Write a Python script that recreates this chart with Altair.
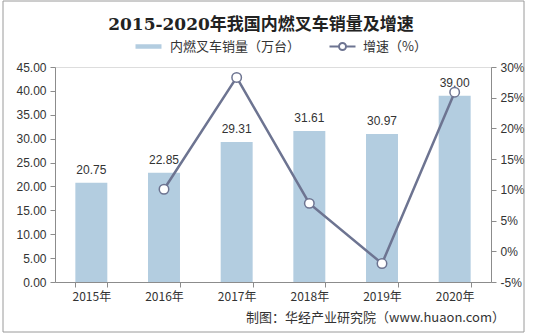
import altair as alt
import pandas as pd

years = ["2015年", "2016年", "2017年", "2018年", "2019年", "2020年"]
sales = [20.75, 22.85, 29.31, 31.61, 30.97, 39.00]
growth = [None, 10.1, 28.3, 7.8, -2.0, 25.9]
left_ticks = [0, 5, 10, 15, 20, 25, 30, 35, 40, 45]
right_ticks = [-5, 0, 5, 10, 15, 20, 25, 30]
title_text = "2015-2020年我国内燃叉车销量及增速"
bar_name = "内燃叉车销量（万台）"
line_name = "增速（%）"
footer = "制图：华经产业研究院（www.huaon.com）"

df = pd.DataFrame({"year": years, "sales": sales, "growth": growth})
df["s"] = bar_name
df["g"] = line_name

BAR = "#b3cde0"
LINE = "#6d7491"
AXC = "#8c8c8c"
NUMFONT = "Liberation Sans"
CJK = "Noto Sans CJK SC"

left_axis = alt.Axis(
    orient="left", title=None, values=left_ticks, format=".2f", grid=False,
    domainColor=AXC, tickColor=AXC, labelColor="#333333", labelFont=NUMFONT,
    labelFontSize=12, tickSize=5, labelPadding=4, labelOverlap=False, labelFlush=False,
)
right_axis = alt.Axis(
    orient="right", title=None, values=right_ticks, labelExpr="datum.value + '%'",
    grid=False, domainColor=AXC, tickColor=AXC, labelColor="#333333",
    labelFont=NUMFONT, labelFontSize=12, tickSize=5, labelPadding=4,
    labelOverlap=False, labelFlush=False,
)
x_axis = alt.Axis(
    title=None, labelAngle=0, tickBand="extent", domainColor=AXC, tickColor=AXC,
    labelColor="#333333", labelFont=CJK, labelFontSize=12, labelPadding=4, tickSize=5,
    labelOverlap=False,
)

base = alt.Chart(df)
xenc = alt.X("year:N", sort=years, scale=alt.Scale(paddingInner=0.56, paddingOuter=0.28), axis=x_axis)
yleft = alt.Y("sales:Q", scale=alt.Scale(domain=[0, 45], nice=False), axis=left_axis)

bars = base.mark_bar().encode(
    x=xenc,
    y=yleft,
    color=alt.Color(
        "s:N",
        scale=alt.Scale(range=[BAR]),
        legend=alt.Legend(
            title=None, orient="none", legendX=87, legendY=-27,
            symbolType="M-2.6,-0.45H2.6V0.45H-2.6Z", symbolSize=100, symbolStrokeWidth=0,
            labelFont=CJK, labelFontSize=13, labelColor="#333333", labelOffset=15,
        ),
    ),
)

labels = base.mark_text(
    dy=-6, baseline="bottom", font=NUMFONT, fontSize=12, color="#333333"
).encode(
    x=xenc,
    y=yleft,
    text=alt.Text("sales:Q", format=".2f"),
)

left = alt.layer(bars, labels)

gdf = base.transform_filter("isValid(datum.growth)")
yright = alt.Y("growth:Q", scale=alt.Scale(domain=[-5, 30], nice=False), axis=right_axis)
stroke_enc = alt.Stroke(
    "g:N",
    scale=alt.Scale(range=[LINE]),
    legend=alt.Legend(
        title=None, orient="none", legendX=281, legendY=-27,
        symbolType="M-2.6,0H-0.7M0.7,0H2.6M-0.7,0A0.7,0.7 0 1,0 0.7,0A0.7,0.7 0 1,0 -0.7,0Z",
        symbolSize=100, symbolStrokeWidth=2, symbolFillColor="white",
        labelFont=CJK, labelFontSize=13, labelColor="#333333", labelOffset=14,
    ),
)
line = gdf.mark_line(strokeWidth=2.5).encode(x=xenc, y=yright, stroke=stroke_enc)
points = gdf.mark_point(filled=False, fill="white", fillOpacity=1, size=90, strokeWidth=1.5, opacity=1).encode(
    x=xenc, y=yright, stroke=stroke_enc
)
right = alt.layer(line, points)

foot = alt.Chart(pd.DataFrame({"t": [footer]})).mark_text(
    align="right", baseline="middle", font=CJK, fontSize=13, color="#333333"
).encode(text="t:N", x=alt.value(450), y=alt.value(251))

border = alt.Chart(pd.DataFrame({"t": [0]})).mark_rect(
    fill=None, stroke="#9a9a9a", strokeWidth=1
).encode(x=alt.value(-52), x2=alt.value(469), y=alt.value(-66), y2=alt.value(265))

chart = (
    alt.layer(left, right, foot, border)
    .resolve_scale(y="independent", color="independent", stroke="independent")
    .properties(
        width=436,
        height=215,
        autosize=alt.AutoSizeParams(type="none"),
        padding={"left": 55, "top": 67, "right": 44, "bottom": 54},
        title=alt.TitleParams(
            title_text, font="DejaVu Serif, " + CJK, fontSize=17, fontWeight="bold",
            color="#222222", anchor="middle", dx=-12, offset=-50, frame="group",
            baseline="bottom",
        ),
    )
    .configure_view(stroke=None)
    .configure(background="white")
)

chart.save("out.html", embed_options={"renderer": "svg", "actions": False})
